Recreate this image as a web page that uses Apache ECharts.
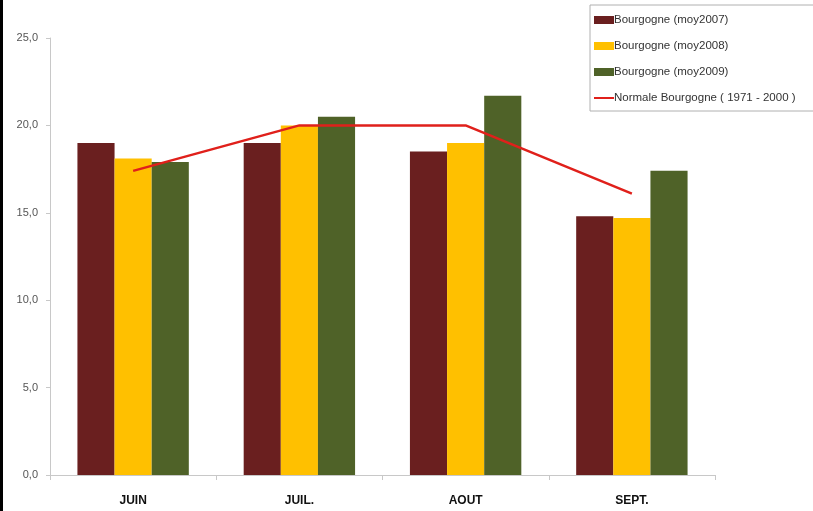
<!DOCTYPE html>
<html>
<head>
<meta charset="utf-8">
<script src="https://cdn.jsdelivr.net/npm/echarts@6/dist/echarts.min.js"></script>
<style>
  html, body { margin: 0; padding: 0; background: #fff; }
  #chart { width: 813px; height: 511px; }
</style>
</head>
<body>
<div id="chart"></div>
<script>
// Monthly mean temperatures, Bourgogne (°C)
var months = ['JUIN', 'JUIL.', 'AOUT', 'SEPT.'];
var moy2007 = [19.0, 19.0, 18.5, 14.8];
var moy2008 = [18.1, 20.0, 19.0, 14.7];
var moy2009 = [17.9, 20.5, 21.7, 17.4];
var normale = [17.4, 20.0, 20.0, 16.1];
var yTicks = [0, 5, 25];

var chart = echarts.init(document.getElementById('chart'));
var font = '"Liberation Sans", Arial, sans-serif';

chart.setOption({
  animation: false,
  backgroundColor: '#ffffff',
  textStyle: { fontFamily: font },
  grid: { left: 50, right: 98, top: 38, bottom: 36 },
  legend: {
    orient: 'vertical',
    left: 590,
    top: 5,
    padding: [9, 30, 7, 4],
    itemGap: 14,
    itemWidth: 20,
    itemHeight: 8,
    borderColor: '#b0b0b0',
    borderWidth: 1,
    textStyle: { fontSize: 11.5, color: '#333', fontFamily: font, padding: [0, 0, 0, -5] },
    data: [
      { name: 'Bourgogne (moy2007)', icon: 'rect' },
      { name: 'Bourgogne (moy2008)', icon: 'rect' },
      { name: 'Bourgogne (moy2009)', icon: 'rect' },
      { name: 'Normale Bourgogne ( 1971 - 2000 )', icon: 'path://M0,0L20,0L20,2L0,2Z' }
    ]
  },
  xAxis: {
    type: 'category',
    data: months,
    axisLine: { lineStyle: { color: '#c8c8c8' } },
    axisTick: { show: true, lineStyle: { color: '#c8c8c8' } },
    axisLabel: { color: '#111', fontWeight: 'bold', fontSize: 12, margin: 20, fontFamily: font }
  },
  yAxis: {
    type: 'value',
    min: yTicks[0],
    max: yTicks[2],
    interval: yTicks[1],
    splitLine: { show: false },
    axisLine: { show: true, lineStyle: { color: '#c8c8c8' } },
    axisTick: { show: true, length: 4, lineStyle: { color: '#c8c8c8' } },
    axisLabel: {
      color: '#555', fontSize: 11, margin: 12, fontFamily: font,
      formatter: function (v) { return v.toFixed(1).replace('.', ','); }
    }
  },
  series: [
    {
      name: 'Bourgogne (moy2007)', type: 'bar', data: moy2007,
      itemStyle: { color: '#6a1f1f' }, barGap: '0%', barCategoryGap: '33%'
    },
    {
      name: 'Bourgogne (moy2008)', type: 'bar', data: moy2008,
      itemStyle: { color: '#ffc000' }, barGap: '0%', barCategoryGap: '33%'
    },
    {
      name: 'Bourgogne (moy2009)', type: 'bar', data: moy2009,
      itemStyle: { color: '#4f6228' }, barGap: '0%', barCategoryGap: '33%'
    },
    {
      name: 'Normale Bourgogne ( 1971 - 2000 )', type: 'line', data: normale,
      showSymbol: false, symbol: 'none',
      lineStyle: { color: '#e0201b', width: 2.5 },
      itemStyle: { color: '#e0201b' }
    }
  ],
  graphic: [
    { type: 'rect', left: 0, top: 0, shape: { width: 3, height: 511 }, style: { fill: '#000' }, z: 100 }
  ]
});
</script>
</body>
</html>
